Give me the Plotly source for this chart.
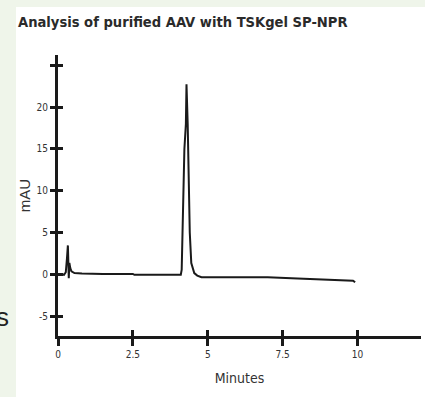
import plotly.graph_objects as go

# Chromatogram data (minutes, mAU)
minutes = [0.0, 0.10, 0.20, 0.26, 0.30, 0.33, 0.36, 0.38, 0.41, 0.45, 0.55, 0.8, 1.5, 2.5, 2.55, 3.5,
           4.10, 4.13, 4.16, 4.22, 4.27, 4.29, 4.33, 4.37, 4.40, 4.45, 4.55, 4.65, 4.79,
           5.5, 7.0, 8.0, 9.2, 9.85, 9.92]
mau = [0.0, 0.1, 0.0, 0.3, 2.0, 3.5, -0.4, 1.4, 0.8, 0.4, 0.2, 0.15, 0.1, 0.1, 0.0, 0.0,
       0.0, 0.6, 6.0, 15.0, 18.0, 22.7, 18.0, 12.0, 5.0, 1.4, 0.2, -0.1, -0.3,
       -0.3, -0.3, -0.45, -0.6, -0.7, -0.9]

x_ticks = [0, 2.5, 5, 7.5, 10]
x_tick_labels = ["0", "2.5", "5", "7.5", "10"]
y_ticks = [-5, 0, 5, 10, 15, 20, 25]
y_tick_labels = ["-5", "0", "5", "10", "15", "20", ""]

title_text = "Analysis of purified AAV with TSKgel SP-NPR"
x_title = "Minutes"
y_title = "mAU"

W, H = 425, 397
L, R, T, B = 58, 4, 55, 61
XR = [0, 12.12]
YR = [-7.3, 26.2]

COND = "DejaVu Sans Condensed, Liberation Sans Narrow, sans-serif"

fig = go.Figure()
fig.add_trace(go.Scatter(x=minutes, y=mau, mode="lines",
                         line=dict(color="#1a1a1a", width=2), showlegend=False))
# invisible trace for overlay axes
fig.add_trace(go.Scatter(x=[None], y=[None], xaxis="x2", yaxis="y2", showlegend=False))

tickfont = dict(family=COND, size=10, color="#333")

pw = W - L - R
ph = H - T - B
def px2paper_x(px):
    return (px - L) / pw
def px2paper_y(py):
    return (H - B - py) / ph

fig.update_layout(
    width=W, height=H,
    margin=dict(l=L, r=R, t=T, b=B, pad=0, autoexpand=False),
    paper_bgcolor="#eff5ea",
    plot_bgcolor="rgba(0,0,0,0)",
    xaxis=dict(range=XR, tickvals=x_ticks, ticktext=x_tick_labels, showgrid=False, zeroline=False,
               automargin=False,
               showline=True, linecolor="#1a1a1a", linewidth=3,
               ticks="outside", ticklen=7, tickwidth=3, tickcolor="#1a1a1a",
               tickfont=tickfont, title=dict(text=x_title, font=dict(
                   family=COND, size=14, color="#333"),
                   standoff=15)),
    yaxis=dict(range=YR, tickvals=y_ticks, ticktext=y_tick_labels, showgrid=False, zeroline=False,
               automargin=False,
               showline=True, linecolor="#1a1a1a", linewidth=3,
               ticks="outside", ticklen=5, tickwidth=3, tickcolor="#1a1a1a",
               tickfont=tickfont, title=dict(text=y_title, font=dict(
                   family="Liberation Sans, Arial, sans-serif", size=15, color="#333"), standoff=3)),
    xaxis2=dict(overlaying="x", range=XR, tickvals=x_ticks, showticklabels=False, showgrid=False,
                automargin=False,
                zeroline=False, ticks="inside", ticklen=6, tickwidth=3, tickcolor="#1a1a1a", side="bottom"),
    yaxis2=dict(overlaying="y", range=YR, tickvals=y_ticks, showticklabels=False, showgrid=False,
                automargin=False,
                zeroline=False, ticks="inside", ticklen=5, tickwidth=3, tickcolor="#1a1a1a", side="left"),
    shapes=[dict(type="rect", xref="paper", yref="paper", layer="below",
                 x0=px2paper_x(16), x1=px2paper_x(W + 5), y0=px2paper_y(H + 5), y1=px2paper_y(7),
                 fillcolor="white", line=dict(width=0))],
    annotations=[
        dict(text="<b>" + title_text + "</b>", xref="paper", yref="paper",
             x=px2paper_x(16), y=px2paper_y(11), xanchor="left", yanchor="top", showarrow=False,
             font=dict(family=COND, size=14.6, color="#2a2a2a")),
        dict(text="s", xref="paper", yref="paper", x=px2paper_x(11), y=px2paper_y(317),
             xanchor="right", yanchor="middle", showarrow=False,
             font=dict(family="Liberation Sans, Arial, sans-serif", size=26, color="#222")),
    ],
)

fig.write_html("out.html", config={"displayModeBar": False},
               post_script="document.body.style.margin='0';document.body.style.overflow='hidden';")
